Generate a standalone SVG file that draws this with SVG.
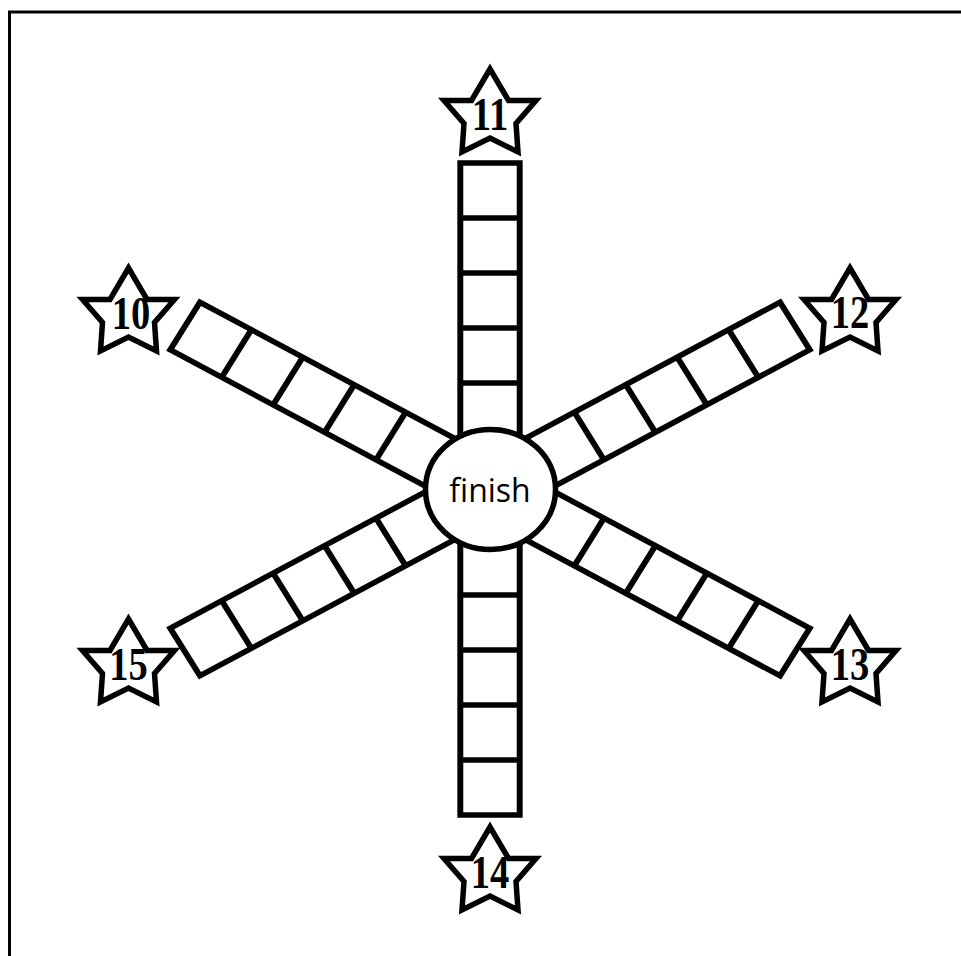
<svg xmlns="http://www.w3.org/2000/svg" xmlns:xlink="http://www.w3.org/1999/xlink" width="961" height="956" viewBox="0 0 961 956">
<style>
.sq{fill:none;stroke:#000;stroke-width:5.5;vector-effect:non-scaling-stroke;stroke-linejoin:miter}
.star{fill:#fff;stroke:#000;stroke-width:5.5;stroke-linejoin:miter;stroke-miterlimit:10}
.num{font-family:"Liberation Serif","Times New Roman",serif;font-weight:bold;font-size:47px;fill:#000;text-anchor:middle}
.fin{font-family:"Open Sans","Noto Sans",sans-serif;font-size:32px;fill:#000;text-anchor:middle}
</style>
<defs>
<polygon id="starShape" points="0,-44 18.5,-12.5 46,-12.5 26,10.5 28,39 0,25 -28,39 -26,10.5 -46,-12.5 -18.5,-12.5"/>
<g id="arm">
<rect x="-27.5" y="-326" width="55" height="275"/>
<line x1="-27.5" y1="-271" x2="27.5" y2="-271"/>
<line x1="-27.5" y1="-216" x2="27.5" y2="-216"/>
<line x1="-27.5" y1="-161" x2="27.5" y2="-161"/>
<line x1="-27.5" y1="-106" x2="27.5" y2="-106"/>
</g>
</defs>
<rect width="961" height="956" fill="#fff"/>
<rect x="9.5" y="12" width="1000" height="1000" fill="none" stroke="#000" stroke-width="3"/>
<g id="connectors" class="sq" transform="translate(490,489) scale(1.08,1)">
<use xlink:href="#arm" transform="rotate(0)"/>
<use xlink:href="#arm" transform="rotate(60)"/>
<use xlink:href="#arm" transform="rotate(120)"/>
<use xlink:href="#arm" transform="rotate(180)"/>
<use xlink:href="#arm" transform="rotate(240)"/>
<use xlink:href="#arm" transform="rotate(300)"/>
</g>
<g id="finish">
<ellipse cx="490.5" cy="489.5" rx="65" ry="60" fill="#fff" stroke="#000" stroke-width="5.5"/>
<text class="fin" x="490" y="502">finish</text>
</g>
<g id="star11">
<use xlink:href="#starShape" class="star" x="490" y="113"/>
<text class="num" transform="translate(490,130) scale(0.82,1)">11</text>
</g>
<g id="star10">
<use xlink:href="#starShape" class="star" x="128.5" y="312"/>
<text class="num" transform="translate(131,329) scale(0.82,1)">10</text>
</g>
<g id="star12">
<use xlink:href="#starShape" class="star" x="850" y="312"/>
<text class="num" transform="translate(850,328) scale(0.82,1)">12</text>
</g>
<g id="star13">
<use xlink:href="#starShape" class="star" x="850" y="663"/>
<text class="num" transform="translate(850,680) scale(0.82,1)">13</text>
</g>
<g id="star15">
<use xlink:href="#starShape" class="star" x="128.5" y="663"/>
<text class="num" transform="translate(128.5,680) scale(0.82,1)">15</text>
</g>
<g id="star14">
<use xlink:href="#starShape" class="star" x="490" y="871"/>
<text class="num" transform="translate(490,888) scale(0.82,1)">14</text>
</g>
</svg>
